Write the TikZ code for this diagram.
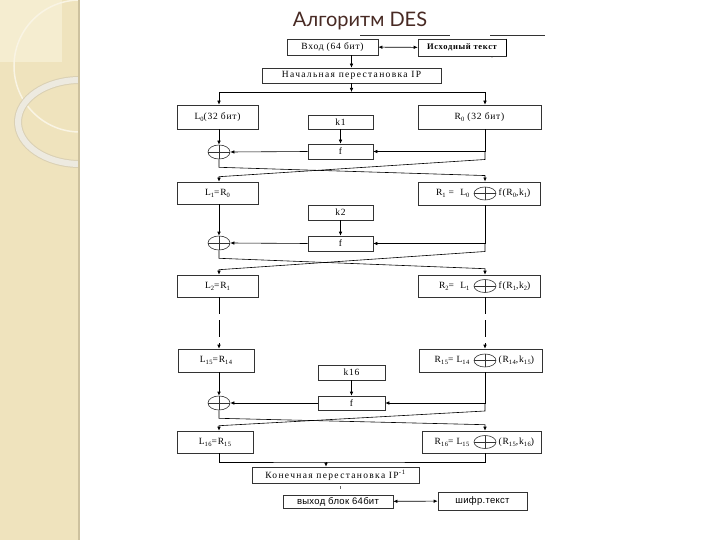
\documentclass[tikz,border=0pt]{standalone}
\usepackage{fontspec}
\usepackage{tikz}
\usetikzlibrary{shapes.geometric,arrows.meta}
\setmainfont{Liberation Serif}
\newfontfamily\titlefont{Lato}
\newfontfamily\boxfont[LetterSpace=8]{Liberation Serif}
\newfontfamily\wideboxfont[LetterSpace=14]{Liberation Serif}
\newfontfamily\sansbox[LetterSpace=3]{Liberation Sans}
\definecolor{panel}{RGB}{239,227,189}
\definecolor{panellight}{RGB}{245,237,208}
\definecolor{panelshade}{RGB}{205,193,158}
\definecolor{ringedge}{RGB}{218,208,180}
\definecolor{ringfill}{RGB}{237,234,224}
\definecolor{titlec}{RGB}{72,42,36}
\newcommand\ix[1]{\raisebox{-0.45ex}{\fontsize{6.5}{7}\selectfont#1}}

\begin{document}
\begin{tikzpicture}[x=1pt,y=-1pt,>={Latex[length=4pt,width=3.5pt]},line width=0.6pt,
  blk/.style 2 args={draw=black!80,minimum width=#1,minimum height=#2,inner sep=0pt,
    font=\boxfont\fontsize{9.5}{10}\selectfont},
  wblk/.style 2 args={blk={#1}{#2},font=\wideboxfont\fontsize{9.5}{10}\selectfont},
  sblk/.style 2 args={blk={#1}{#2},font=\sansbox\fontsize{9.5}{10}\selectfont},
  lbl/.style={inner sep=1pt,font=\boxfont\fontsize{9.5}{10}\selectfont},
  xor/.style={ellipse,draw=black!80,minimum width=22pt,minimum height=14pt,inner sep=0pt,
    path picture={\draw[black!80] (path picture bounding box.north) -- (path picture bounding box.south)
      (path picture bounding box.west) -- (path picture bounding box.east);}},
  elided/.style={dash pattern=on 17pt off 6pt}]
  \useasboundingbox (0,0) rectangle (720,540);
  \fill[panel] (0,0) rectangle (79,540);
  \begin{scope}
    \clip (0,0) rectangle (78,540);
    \fill[panellight] (0,0) rectangle (62,62);
    \draw[white!60!panel,line width=1.5pt] (80,66) circle (66pt);
    \draw[ringedge,line width=8pt] (80,122) ellipse (62pt and 42pt);
    \draw[ringfill,line width=6pt] (80,122) ellipse (62pt and 42pt);
  \end{scope}
  \fill[panelshade] (78,0) rectangle (80,540);

  \node[anchor=base,text=titlec,font=\titlefont\fontsize{20}{24}\selectfont] (title) at (360,27) {Алгоритм DES};

  \draw[black!80] (360,35) -- (450,35) (490,35) -- (545,35);
  \fill[black!70] (492,57) circle (0.7pt);

  \coordinate (cr) at (485,0);
  \node[blk={91pt}{16pt}] (vhod) at (332.5,47) {Вход (64 бит)};
  \node[blk={88pt}{17pt},font=\boxfont\bfseries\fontsize{8.5}{9}\selectfont] (src) at (462,47.5) {Исходный текст};
  \draw[line width=1.2pt] (src.north east) -- (src.south east);
  \node[wblk={179pt}{15pt}] (ip) at (351.5,75.5) {Начальная перестановка IP};
  \node[blk={81pt}{24pt}] (L0) at (217.5,117) {L\ix0(32 бит)};
  \node[blk={123pt}{24pt}] (R0) at (479.5,117) {R\ix0 (32 бит)};
  \node[blk={65pt}{14pt}] (k1) at (340.5,122) {k1};
  \node[blk={65pt}{15pt}] (f1) at (340.5,151.5) {f};
  \node[xor] (x1) at (219,152) {};
  \node[blk={81pt}{22pt}] (L1) at (217.5,193) {L\ix1=R\ix0};
  \node[blk={122pt}{23pt},line width=0.9pt] (R1) at (479,193.5) {};
  \node[blk={65pt}{15pt}] (k2) at (340.5,212.5) {k2};
  \node[blk={65pt}{15pt}] (f2) at (340.5,243.5) {f};
  \node[xor] (x2) at (219,243) {};
  \node[blk={81pt}{22pt}] (L2) at (217.5,286) {L\ix2=R\ix1};
  \node[blk={122pt}{22pt}] (R2) at (479,286) {};
  \node[blk={76pt}{23pt}] (L15) at (216,360.5) {L\ix{15}=R\ix{14}};
  \node[blk={123pt}{23pt}] (R15) at (480.5,360.5) {};
  \node[blk={67pt}{15pt}] (k16) at (351.5,372.5) {k16};
  \node[blk={67pt}{14pt}] (f16) at (351.5,403) {f};
  \node[xor] (x16) at (219,403) {};
  \node[blk={76pt}{22pt}] (L16) at (215,442) {L\ix{16}=R\ix{15}};
  \node[blk={119pt}{22pt}] (R16) at (481.5,442) {};
  \node[wblk={167pt}{16pt}] (ipinv) at (335.5,475) {Конечная перестановка IP\textsuperscript{-1}};
  \node[sblk={110pt}{13pt}] (out) at (338,501.5) {выход блок 64бит};
  \node[sblk={89pt}{18pt}] (cip) at (482.5,501) {шифр.текст};

  \foreach \rb/\lpart/\rpart in {R1/{R\ix1 =\ \ L\ix0}/{f(R\ix0,k\ix1)},
    R2/{R\ix2=\ \ L\ix1}/{f(R\ix1,k\ix2)},
    R15/{R\ix{15}= L\ix{14}}/{(R\ix{14},k\ix{15})},
    R16/{R\ix{16}= L\ix{15}}/{(R\ix{15},k\ix{16})}}
  {
    \node[xor,minimum height=13pt] (\rb-o) at (cr |- \rb) {};
    \node[lbl,anchor=east] (\rb-a) at ([xshift=-3pt]\rb-o.west) {\lpart};
    \node[lbl,anchor=west] (\rb-b) at ([xshift=1pt]\rb-o.east) {\rpart};
  }

  \draw[<->] (vhod) -- (src);
  \draw[->] (vhod.south -| ip) -- (ip.north);
  \coordinate (sp) at (351.5,92);
  \draw[->] (ip) -- (sp);
  \draw[->] (sp) -| (L0.north -| x1);
  \draw[->] (sp) -| (R0.north -| cr);

  \foreach \lp/\rp/\kk/\ff/\xo/\ln/\rn in {L0/R0/k1/f1/x1/L1/R1,L1/R1/k2/f2/x2/L2/R2,L15/R15/k16/f16/x16/L16/R16}
  {
    \draw[->] (\lp.south -| \xo) -- (\xo.north);
    \draw[->] (\kk) -- (\ff);
    \draw[->] (\rp.south -| cr) |- (\ff.east);
    \draw[->] (\ff.west) -- (\xo.east);
    \draw[->] (\xo.south) -- ++(0,8) -- ([yshift=6pt]\rn.north -| cr) -- (\rn.north -| cr);
    \draw[->] (\ff.east -| cr) -- ++(0,8) -- ([yshift=5pt]\ln.north -| \xo) -- (\ln.north -| \xo);
  }

  \draw[->,elided] (L2.south -| x1) -- (L15.north -| x1);
  \draw[->,elided] (R2.south -| cr) -- (R15.north -| cr);

  \coordinate (jn) at (326,462);
  \draw (L16.south -| x16) |- (jn) -| (R16.south -| cr);
  \draw[->] (jn) -- (jn |- ipinv.north);
  \draw[black!60] (340,486) -- (340,489);
  \draw[<->] (out) -- (cip);
\end{tikzpicture}
\end{document}
